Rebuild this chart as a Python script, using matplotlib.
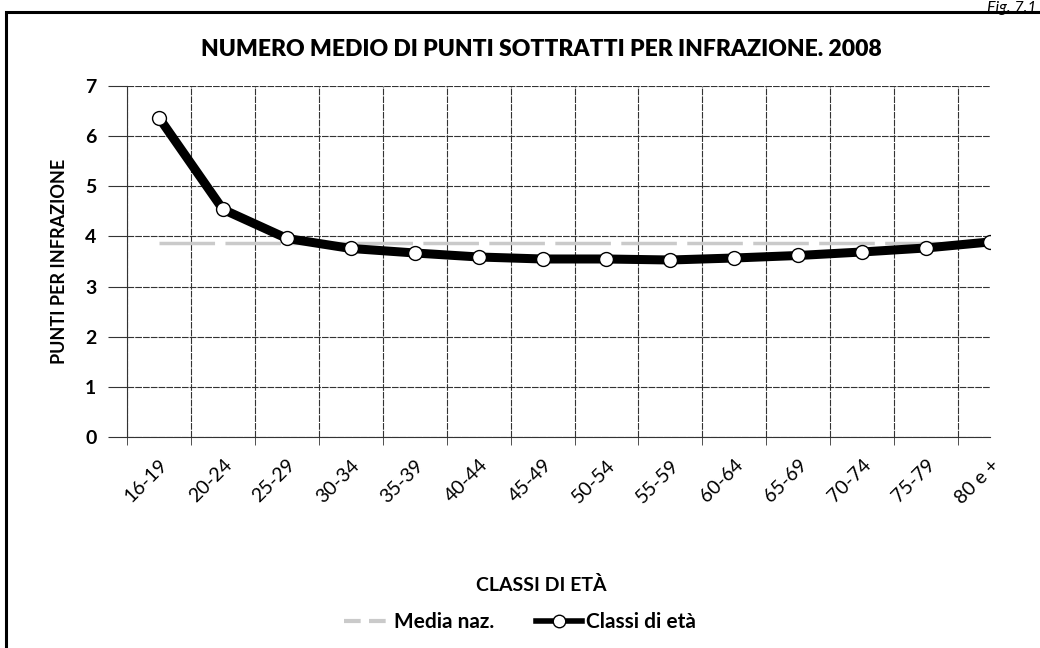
import matplotlib
matplotlib.use("Agg")
import matplotlib.pyplot as plt
from matplotlib.lines import Line2D
from matplotlib.patches import Rectangle

classi = ["16-19", "20-24", "25-29", "30-34", "35-39", "40-44", "45-49",
          "50-54", "55-59", "60-64", "65-69", "70-74", "75-79", "80 e +"]
punti_classi = [6.37, 4.54, 3.96, 3.76, 3.67, 3.59, 3.55,
                3.55, 3.53, 3.57, 3.62, 3.69, 3.77, 3.89]
media_naz = [3.87] * len(classi)

plt.rcParams['font.family'] = ['Lato', 'DejaVu Sans']

fig = plt.figure(figsize=(10.4, 6.48), dpi=100)
ax = fig.add_axes([0.1221, 0.3256, 0.952 - 0.1221, 0.8673 - 0.3256])

x = list(range(len(classi)))
ax.plot(x, media_naz, color='#cacaca', lw=2.5, linestyle=(0, (16, 3)), zorder=2)
ax.plot(x, punti_classi, color='black', lw=6.5, marker='o', markersize=10,
        markerfacecolor='white', markeredgecolor='black', markeredgewidth=1.0,
        solid_joinstyle='round', zorder=3)

ax.set_xlim(-0.5, 13.0)
ax.set_ylim(0, 7)
ax.set_yticks(range(0, 8))
ax.set_xticks(x)
ax.set_xticklabels(classi, rotation=45, ha='right', rotation_mode='anchor',
                   fontsize=14)
for lbl in ax.get_yticklabels():
    lbl.set_fontweight('bold')
    lbl.set_fontsize(14)

# vertical grid lines between the categories
ax.set_xticks([i - 0.5 for i in range(len(classi))], minor=True)
ax.grid(which='minor', axis='x', color='#333333', lw=0.8, linestyle=(0, (6, 1)))
ax.grid(which='major', axis='y', color='#333333', lw=0.8, linestyle=(0, (6, 1)))
ax.tick_params(axis='x', which='major', length=0, pad=14)
ax.tick_params(axis='x', which='minor', length=6, color='#333333')
ax.tick_params(axis='y', length=14, color='#333333', pad=8)
for s in ['top', 'right']:
    ax.spines[s].set_visible(False)
ax.spines['left'].set_color('#333333')
ax.spines['bottom'].set_color('#333333')

ax.set_ylabel("PUNTI PER INFRAZIONE", fontsize=13, fontweight='bold', labelpad=12)
ax.set_xlabel("CLASSI DI ETÀ", fontsize=14, fontweight='bold', va='center')
ax.xaxis.set_label_coords(0.5 - 17 / 863, -148 / 351)
fig.text(541 / 1040, 1 - 50 / 648,
         "NUMERO MEDIO DI PUNTI SOTTRATTI PER INFRAZIONE. 2008",
         ha='center', va='center', fontsize=16.5, fontweight='heavy')

handles = [
    Line2D([], [], color='#cacaca', lw=3, linestyle=(0, (4, 2))),
    Line2D([], [], color='black', lw=4, marker='o', markersize=9,
           markerfacecolor='white', markeredgecolor='black'),
]
fig.legend(handles, ["Media naz.", "Classi di età"], loc='center',
           bbox_to_anchor=(0.5, 1 - 622 / 648), ncol=2, frameon=False,
           prop={'size': 15, 'weight': 'bold'}, handlelength=2.2,
           handletextpad=0.2, columnspacing=2.0)

# frame around the figure and figure number
fig.add_artist(Rectangle((6 / 1040, -0.02), 1.05, 1 - 12 / 648 + 0.02,
                         transform=fig.transFigure, fill=False,
                         edgecolor='black', lw=2.2, clip_on=False))
fig.text(1 - 3 / 1040, 1 - 1 / 648, "Fig. 7.1", ha='right', va='top',
         fontsize=11.5, style='italic')

fig.savefig("out.png", dpi=100)
